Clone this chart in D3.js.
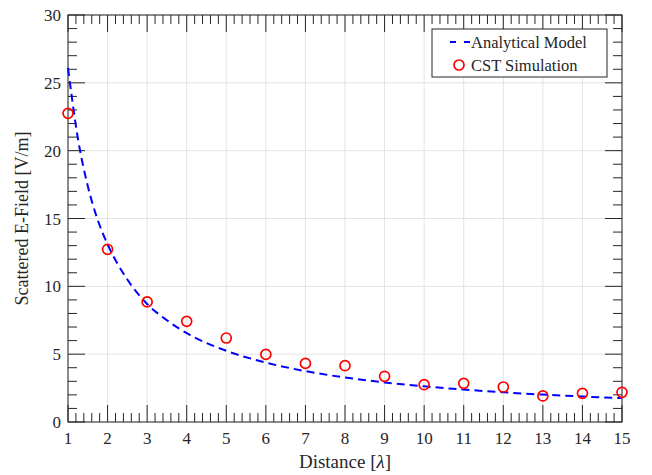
<!DOCTYPE html>
<html>
<head>
<meta charset="utf-8">
<script src="https://cdn.jsdelivr.net/npm/d3@7"></script>
<style>
  body { margin: 0; background: #fff; }
  svg { display: block; font-family: "Liberation Serif", "Times New Roman", serif; }
</style>
</head>
<body>
<svg id="chart" width="652" height="475"></svg>
<script>
// analytical model
const modelX = [1, 1.25, 1.5, 1.75, 2, 2.5, 3, 3.5, 4, 5, 6, 7, 8, 9, 10, 11, 12, 13, 14, 15];
const modelY = [26.1, 20.9, 17.4, 14.9, 13.1, 10.5, 8.7, 7.5, 6.55, 5.25, 4.38, 3.75, 3.28, 2.92, 2.63, 2.39, 2.19, 2.02, 1.88, 1.76];

// CST simulation points
const simX = [1, 2, 3, 4, 5, 6, 7, 8, 9, 10, 11, 12, 13, 14, 15];
const simY = [22.75, 12.73, 8.85, 7.42, 6.19, 4.98, 4.32, 4.15, 3.37, 2.75, 2.85, 2.58, 1.92, 2.11, 2.19];

const xTicks = d3.range(1, 16);
const yTicks = [0, 5, 10, 15, 20, 25, 30];

const svg = d3.select("#chart");
const margin = { left: 68, right: 30, top: 15, bottom: 53 };
const width = 652, height = 475;
const x = d3.scaleLinear().domain([1, 15]).range([margin.left, width - margin.right]);
const y = d3.scaleLinear().domain([0, 30]).range([height - margin.bottom, margin.top]);
const x0 = x.range()[0], x1 = x.range()[1], y0 = y.range()[0], y1 = y.range()[1];
const ink = "#262626";

// grid
svg.append("g")
  .selectAll("line")
  .data(xTicks)
  .join("line")
  .attr("x1", (d) => x(d)).attr("x2", (d) => x(d))
  .attr("y1", y1).attr("y2", y0)
  .style("stroke", "#e3e3e3").style("stroke-width", 1);
svg.append("g")
  .selectAll("line")
  .data(yTicks)
  .join("line")
  .attr("x1", x0).attr("x2", x1)
  .attr("y1", (d) => y(d)).attr("y2", (d) => y(d))
  .style("stroke", "#e3e3e3").style("stroke-width", 1);

// ticks (inward, on all four sides)
const majorLen = 17, minorLen = 9;
const xMinor = d3.range(1, 15.001, 0.2).map((d) => +d.toFixed(1)).filter((d) => !Number.isInteger(d));
const yMinor = d3.range(0, 31).filter((d) => d % 5 !== 0);
const ticks = svg.append("g").style("stroke", ink).style("stroke-width", 1);

function xTickMarks(data, len) {
  ticks.selectAll(null).data(data).join("line")
    .attr("x1", (d) => x(d)).attr("x2", (d) => x(d))
    .attr("y1", y0).attr("y2", y0 - len);
  ticks.selectAll(null).data(data).join("line")
    .attr("x1", (d) => x(d)).attr("x2", (d) => x(d))
    .attr("y1", y1).attr("y2", y1 + len);
}
function yTickMarks(data, len) {
  ticks.selectAll(null).data(data).join("line")
    .attr("x1", x0).attr("x2", x0 + len)
    .attr("y1", (d) => y(d)).attr("y2", (d) => y(d));
  ticks.selectAll(null).data(data).join("line")
    .attr("x1", x1).attr("x2", x1 - len)
    .attr("y1", (d) => y(d)).attr("y2", (d) => y(d));
}
xTickMarks(xTicks, majorLen);
xTickMarks(xMinor, minorLen);
yTickMarks(yTicks, majorLen);
yTickMarks(yMinor, minorLen);

// box
svg.append("rect")
  .attr("x", x0).attr("y", y1)
  .attr("width", x1 - x0).attr("height", y0 - y1)
  .style("fill", "none").style("stroke", ink).style("stroke-width", 1);

// tick labels
svg.append("g")
  .selectAll("text")
  .data(xTicks)
  .join("text")
  .attr("x", (d) => x(d)).attr("y", y0 + 22)
  .attr("text-anchor", "middle")
  .style("font-size", "17px").style("fill", ink)
  .text((d) => d);
svg.append("g")
  .selectAll("text")
  .data(yTicks)
  .join("text")
  .attr("x", x0 - 7).attr("y", (d) => y(d) + 6)
  .attr("text-anchor", "end")
  .style("font-size", "17px").style("fill", ink)
  .text((d) => d);

// axis titles
const xt = svg.append("text")
  .attr("x", (x0 + x1) / 2).attr("y", y0 + 46)
  .attr("text-anchor", "middle")
  .style("font-size", "19px").style("fill", ink);
xt.append("tspan").text("Distance [");
xt.append("tspan").style("font-style", "italic").text("λ");
xt.append("tspan").text("]");

svg.append("text")
  .attr("transform", `translate(28, ${(y0 + y1) / 2}) rotate(-90)`)
  .attr("text-anchor", "middle")
  .style("font-size", "18px").style("fill", ink)
  .text("Scattered E-Field [V/m]");

// analytical model
const line = d3.line()
  .x((d, i) => x(modelX[i]))
  .y((d) => y(d))
  .curve(d3.curveMonotoneX);
svg.append("path")
  .attr("d", line(modelY))
  .style("fill", "none")
  .style("stroke", "#0000ff")
  .style("stroke-width", 2)
  .style("stroke-dasharray", "8,5");

// CST points
svg.append("g")
  .selectAll("circle")
  .data(simY)
  .join("circle")
  .attr("cx", (d, i) => x(simX[i]))
  .attr("cy", (d) => y(d))
  .attr("r", 5)
  .style("fill", "none")
  .style("stroke", "#ff0000")
  .style("stroke-width", 1.7);

// legend
const lg = svg.append("g");
lg.append("rect")
  .attr("x", 432).attr("y", 29)
  .attr("width", 175).attr("height", 48)
  .style("fill", "#fff").style("stroke", ink).style("stroke-width", 1);
lg.append("line")
  .attr("x1", 450).attr("x2", 470).attr("y1", 42).attr("y2", 42)
  .style("stroke", "#0000ff").style("stroke-width", 2)
  .style("stroke-dasharray", "6,8");
lg.append("text")
  .attr("x", 471).attr("y", 47.5)
  .style("font-size", "16.5px").style("fill", ink)
  .text("Analytical Model");
lg.append("circle")
  .attr("cx", 459).attr("cy", 65).attr("r", 5)
  .style("fill", "none").style("stroke", "#ff0000").style("stroke-width", 1.7);
lg.append("text")
  .attr("x", 471).attr("y", 70.5)
  .style("font-size", "16.5px").style("fill", ink)
  .text("CST Simulation");
</script>
</body>
</html>
